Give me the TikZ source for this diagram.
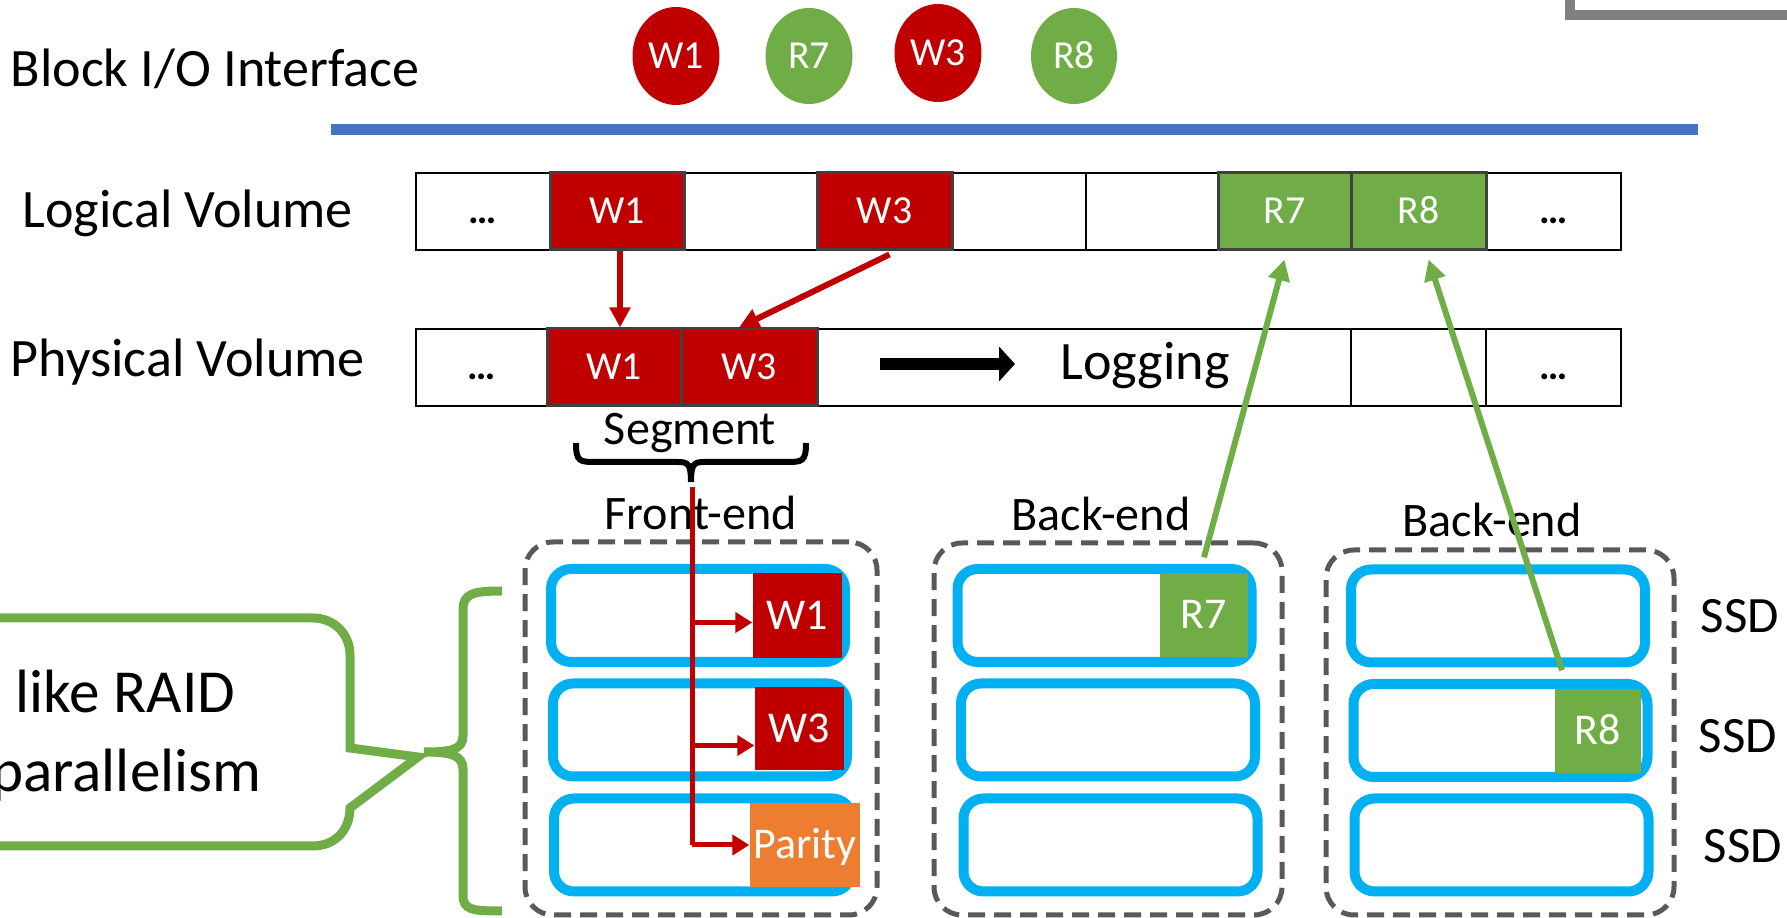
\documentclass[tikz,border=0pt]{standalone}
\usepackage{fontspec}
\setmainfont{Carlito}
\usetikzlibrary{arrows.meta,shapes.geometric}

\definecolor{ioRed}{HTML}{C00000}
\definecolor{ioGreen}{HTML}{70AD47}
\definecolor{ioOrange}{HTML}{ED7D31}
\definecolor{ssdCyan}{HTML}{00B0F0}
\definecolor{busBlue}{HTML}{4472C4}
\definecolor{dashGray}{HTML}{595959}
\definecolor{cellEdge}{HTML}{404040}
\definecolor{frameGray}{HTML}{7F7F7F}

\begin{document}
\begin{tikzpicture}[x=0.1mm,y=-0.1mm,
  biglabel/.style={font=\fontsize{15.4pt}{18pt}\selectfont, inner sep=0pt},
  midlabel/.style={font=\fontsize{13.7pt}{16pt}\selectfont, inner sep=0pt},
  ssdlabel/.style={font=\fontsize{14.5pt}{17pt}\selectfont, inner sep=0pt},
  notelabel/.style={font=\fontsize{17.4pt}{20pt}\selectfont, inner sep=0pt},
  cell/.style={draw=black, line width=0.2mm, minimum height=7.7mm, minimum width=13.4mm,
    inner sep=0pt, font=\fontsize{11.3pt}{13pt}\selectfont, text height=2.5mm, text depth=0pt},
  dots/.style={cell, font=\fontsize{11.3pt}{13pt}\selectfont\bfseries},
  wcell/.style={cell, fill=ioRed, draw=cellEdge, line width=0.3mm, text=white},
  rcell/.style={cell, fill=ioGreen, draw=cellEdge, line width=0.3mm, text=white},
  req/.style={ellipse, inner sep=0pt, minimum width=8.7mm, minimum height=9.7mm, text=white,
    font=\fontsize{11.3pt}{13pt}\selectfont, text height=2.5mm, text depth=0pt},
  group/.style={draw=dashGray, line width=0.5mm, dash pattern=on 1.7mm off 0.9mm,
    rounded corners=2.8mm},
  ssd/.style={draw=ssdCyan, line width=1mm, rounded corners=2mm,
    minimum width=29.4mm, minimum height=9.3mm, inner sep=0pt},
  blk/.style={inner sep=0pt, text=white, font=\fontsize{12.5pt}{15pt}\selectfont,
    text height=2.8mm, text depth=0pt},
  redarrow/.style={draw=ioRed, line width=0.6mm, -{Triangle[length=2mm,width=2mm]}},
  redbranch/.style={draw=ioRed, line width=0.5mm, -{Triangle[length=1.7mm,width=2mm]}},
  greenarrow/.style={draw=ioGreen, line width=0.6mm, -{Triangle[length=2.1mm,width=2.1mm]}},
  greenline/.style={draw=ioGreen, line width=0.9mm}
]
\useasboundingbox (0,0) rectangle (1787,918);

% corner of a neighbouring frame
\draw[frameGray, line width=1mm] (1570,-10) -- (1570,15) -- (1800,15);

% block interface requests
\node[biglabel, anchor=base west] (biotitle) at (10,87) {Block I/O Interface};
\node[req, fill=ioRed, minimum height=9.8mm] (qw1) at (676,56) {W1};
\node[req, fill=ioGreen, minimum height=9.6mm] (qr7) at (809,56) {R7};
\node[req, fill=ioRed, minimum height=9.8mm] (qw3) at (938,53) {W3};
\node[req, fill=ioGreen, minimum height=9.6mm, minimum width=8.6mm] (qr8) at (1074,56) {R8};
\draw[busBlue, line width=1.1mm] (331,129.5) -- (1698,129.5);

% logical volume
\node[biglabel, anchor=base west] (lvtitle) at (22,228) {Logical Volume};
\node[dots] (l1) at (483,211.5) {…};
\node[cell, minimum width=13.3mm] (l3) at (750.5,211.5) {};
\node[cell] (l5) at (1019,211.5) {};
\node[cell, minimum width=13.2mm] (l6) at (1152,211.5) {};
\node[dots, minimum width=13.5mm] (l9) at (1553.5,211.5) {…};
\node[wcell] (lw1) at (617,211.5) {W1};
\node[wcell, minimum width=13.5mm] (lw3) at (884.5,211.5) {W3};
\node[rcell, minimum width=13.3mm] (lr7) at (1284.5,211.5) {R7};
\node[rcell, minimum width=13.5mm] (lr8) at (1418.5,211.5) {R8};

% physical volume
\node[biglabel, anchor=base west] (pvtitle) at (10,377) {Physical Volume};
\node[dots, minimum width=13.1mm] (p1) at (481.5,367.5) {…};
\node[cell, minimum width=53.4mm] (plog) at (1084,367.5) {};
\node[cell, minimum width=13.5mm] (p5) at (1418.5,367.5) {};
\node[dots, minimum width=13.5mm] (p6) at (1553.5,367.5) {…};
\node[wcell] (pw1) at (614,367.5) {W1};
\node[wcell, minimum width=13.6mm] (pw3) at (749,367.5) {W3};
\coordinate (logA) at (880,364);
\coordinate (logB) at (1015,364);
\draw[black, line width=1.25mm, -{Triangle[length=1.6mm,width=3.4mm]}] (logA) -- (logB);
\node[biglabel, anchor=base west] (logtxt) at (1060,380) {Logging};

% segment bracket
\node[midlabel, anchor=base] (segtxt) at (690,445) {Segment};
\draw[black, line width=0.6mm] (576,443) .. controls (576,462) and (580,462) .. (596,462)
  -- (678,462) .. controls (688,462) and (691,464) .. (691,482);
\draw[black, line width=0.6mm] (806,443) .. controls (806,462) and (802,462) .. (786,462)
  -- (704,462) .. controls (694,462) and (691,464) .. (691,482);
\coordinate (segtip) at (692,487);

% groups of SSDs
\node[midlabel, anchor=base] (fetxt) at (701,530) {Front-end};
\node[midlabel, anchor=base] (be1txt) at (1101,531) {Back-end};
\node[midlabel, anchor=base] (be2txt) at (1492,537) {Back-end};
\node[group, minimum width=35.2mm, minimum height=37.3mm] (fe) at (701,728.5) {};
\node[group, minimum width=34.8mm, minimum height=37.2mm] (be1) at (1108,729) {};
\node[group, minimum width=34.8mm, minimum height=36.5mm] (be2) at (1500,732.5) {};

\node[ssd] (fs1) at (698,615.5) {};
\node[ssd] (fs2) at (700,730) {};
\node[ssd, minimum width=29.8mm] (fs3) at (703,845) {};
\node[ssd] (bs11) at (1104.5,615.5) {};
\node[ssd] (bs12) at (1108,730) {};
\node[ssd] (bs13) at (1110.5,845) {};
\node[ssd] (bs21) at (1498,616) {};
\node[ssd] (bs22) at (1500.5,730.5) {};
\node[ssd] (bs23) at (1501.5,845) {};

\node[blk, fill=ioRed, minimum width=8.9mm, minimum height=8.5mm] (fw1) at (797.5,615.5) {W1};
\node[blk, fill=ioRed, minimum width=8.9mm, minimum height=8.3mm] (fw3) at (799.5,728.5) {W3};
\node[blk, fill=ioOrange, minimum width=11mm, minimum height=8.4mm] (fpar) at (805,845) {Parity};
\node[blk, fill=ioGreen, minimum width=8.8mm, minimum height=8.4mm] (br7) at (1204,615) {R7};
\node[blk, fill=ioGreen, minimum width=8.6mm, minimum height=8.4mm] (br8) at (1598,731) {R8};

\node[ssdlabel, anchor=base] (ssd1) at (1740,633) {SSD};
\node[ssdlabel, anchor=base] (ssd2) at (1738,753) {SSD};
\node[ssdlabel, anchor=base] (ssd3) at (1743,863) {SSD};

% note on the left
\draw[greenline] (-20,618) -- (313,618) .. controls (334,618) and (350,634) .. (350,655)
  -- (350,748) -- (418,757) -- (350,808) .. controls (350,830) and (335,846) .. (313,846)
  -- (-20,846);
\node[notelabel, anchor=base east] (note1) at (236,713) {like RAID};
\node[notelabel, anchor=base east] (note2) at (262,792) {parallelism};
\draw[greenline] (502,591) .. controls (472,591) and (463,594) .. (463,610)
  -- (463,736) .. controls (463,750) and (450,752) .. (424,752)
  .. controls (450,752) and (463,755) .. (463,769)
  -- (463,895) .. controls (463,910) and (472,911) .. (502,911);

% placement of writes
\draw[redarrow] ([xshift=0.3mm]lw1.south) -- ([xshift=0.3mm]lw1.south |- pw1.north);
\draw[redarrow] ([xshift=0.5mm,yshift=-0.3mm]lw3.south) -- ([xshift=-1mm]pw3.north);
\draw[draw=ioRed, line width=0.5mm] (segtip) -- (segtip |- fpar.west);
\draw[redbranch] (segtip |- fpar.west) -- (fpar.west);
\draw[redbranch] ([yshift=-0.7mm]segtip |- fw1.west) -- ([yshift=-0.7mm]fw1.west);
\draw[redbranch] ([yshift=-1.7mm]segtip |- fw3.west) -- ([yshift=-1.7mm]fw3.west);

% reads served from back-end SSDs
\draw[greenarrow] ([yshift=1.5mm]br7.north) -- ([yshift=-0.8mm]lr7.south);
\draw[greenarrow] ([xshift=-3.6mm,yshift=1.8mm]br8.north) -- ([xshift=1mm,yshift=-0.8mm]lr8.south);
\end{tikzpicture}
\end{document}
